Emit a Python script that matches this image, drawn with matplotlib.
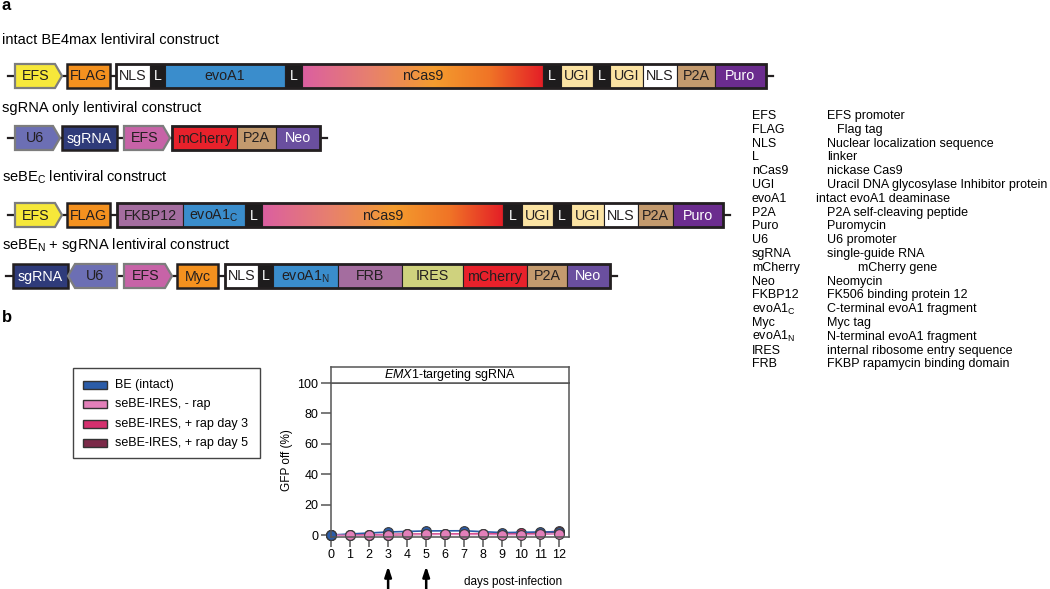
import matplotlib
matplotlib.use("Agg")
import matplotlib.pyplot as plt
import numpy as np
from matplotlib.patches import Rectangle, Polygon
from matplotlib.colors import LinearSegmentedColormap

plt.rcParams["font.family"] = ["Liberation Sans", "DejaVu Sans"]
plt.rcParams["mathtext.fontset"] = "custom"
plt.rcParams["mathtext.rm"] = "Liberation Sans"
plt.rcParams["mathtext.it"] = "Liberation Sans:italic"

SUB_C = r"$_\mathregular{C}$"
SUB_N = r"$_\mathregular{N}$"

# ---- panel b data (GFP off %) ----
days = list(range(13))
be_days = [0, 3, 5, 7, 9, 11, 12]
be_intact = [0.0, 2.0, 2.7, 2.8, 1.6, 2.0, 2.1]
no_rap = [0.0, -0.3, -0.2, 0.0, 0.5, 0.4, 0.5, 0.4, 0.4, 0.3, 0.3, 0.4, 0.8]
rap_day3 = [0.0, 0.0, 0.1, 0.3, 0.5, 0.6, 0.7, 0.8, 0.9, 1.0, 1.3, 1.6, 2.6]
rap_day5 = [0.0, 0.0, 0.1, 0.2, 0.4, 0.5, 0.6, 0.7, 0.8, 1.0, 1.2, 1.4, 1.8]
series_names = ["BE (intact)", "seBE-IRES, - rap", "seBE-IRES, + rap day 3",
                "seBE-IRES, + rap day 5"]
series_colors = ["#2b5ca8", "#e27fb9", "#d4306e", "#7b2948"]
rap_arrow_days = [3, 5]

# ---- panel a: construct parts ----
row_titles = ["intact BE4max lentiviral construct",
              "sgRNA only lentiviral construct",
              "seBE" + SUB_C + " lentiviral construct",
              "seBE" + SUB_N + " + sgRNA lentiviral construct"]
row_parts = [
    ["EFS", "FLAG", "NLS", "L", "evoA1", "L", "nCas9", "L", "UGI", "L", "UGI", "NLS", "P2A", "Puro"],
    ["U6", "sgRNA", "EFS", "mCherry", "P2A", "Neo"],
    ["EFS", "FLAG", "FKBP12", "evoA1" + SUB_C, "L", "nCas9", "L", "UGI", "L", "UGI", "NLS", "P2A", "Puro"],
    ["sgRNA", "U6", "EFS", "Myc", "NLS", "L", "evoA1" + SUB_N, "FRB", "IRES", "mCherry", "P2A", "Neo"],
]
# kinds: P promoter (right), Q promoter (left), B separate box, S fused segment
row_kinds = [
    "PBSSSSSSSSSSSS",
    "PBPSSS",
    "PBSSSSSSSSSSS",
    "BQPBSSSSSSSS",
]
row_spans = [
    [(15, 62), (67, 110), (116, 150), (150, 165), (165, 285), (285, 302), (302, 543),
     (543, 561), (561, 593), (593, 610), (610, 643), (643, 677), (677, 715), (715, 766)],
    [(15, 60), (62, 117), (124, 170), (172, 237), (237, 276), (276, 320)],
    [(15, 62), (67, 110), (117, 183), (183, 245), (245, 262), (262, 503), (503, 522),
     (522, 553), (553, 571), (571, 604), (604, 638), (638, 673), (673, 723)],
    [(13, 68), (68, 117), (124, 172), (177, 218), (225, 258), (258, 273), (273, 338),
     (338, 402), (402, 463), (463, 527), (527, 567), (567, 610)],
]
row_y = [76, 138, 215, 276]
title_y = [40, 108, 177, 245]
efs_colors = ["#f6e83a", "#c763a7", "#f6e83a", "#c763a7"]

part_colors = {"FLAG": "#f4911f", "NLS": "white", "L": "#1e1c1d", "evoA1": "#3a8dcc",
               "UGI": "#fbe3a3", "P2A": "#c39a6e", "Puro": "#6b2c8e", "U6": "#6c6fb4",
               "sgRNA": "#2f3b7a", "mCherry": "#e8212b", "Neo": "#6a4f9f",
               "FKBP12": "#a46d9f", "FRB": "#a46d9f", "Myc": "#f4911f", "IRES": "#cfd27e"}
white_text = {"L", "sgRNA", "Puro", "Neo"}

glossary_names = ["EFS", "FLAG", "NLS", "L", "nCas9", "UGI", "evoA1", "P2A", "Puro", "U6",
                  "sgRNA", "mCherry", "Neo", "FKBP12", "evoA1" + SUB_C, "Myc",
                  "evoA1" + SUB_N, "IRES", "FRB"]
glossary_desc = ["EFS promoter", "Flag tag", "Nuclear localization sequence", "linker",
                 "nickase Cas9", "Uracil DNA glycosylase Inhibitor protein",
                 "intact evoA1 deaminase", "P2A self-cleaving peptide", "Puromycin",
                 "U6 promoter", "single-guide RNA", "mCherry gene", "Neomycin",
                 "FK506 binding protein 12", "C-terminal evoA1 fragment", "Myc tag",
                 "N-terminal evoA1 fragment", "internal ribosome entry sequence",
                 "FKBP rapamycin binding domain"]
glossary_shift = [0, 10, 0, 0, 0, 0, -11, 0, 0, 0, 0, 31, 0, 0, 0, 0, 0, 0, 0]

cas9_cmap = LinearSegmentedColormap.from_list(
    "cas9", [(0, "#db5fa1"), (0.3, "#e8826a"), (0.55, "#f49c2e"), (0.78, "#f07426"), (1, "#e41f27")])

W, H = 1050, 589
fig = plt.figure(figsize=(W / 100, H / 100), dpi=100)
canvas = fig.add_axes([0, 0, 1, 1])
canvas.set_xlim(0, W)
canvas.set_ylim(H, 0)
canvas.axis("off")

TXT = "#231f20"
BOX_H = 24


def draw_row(y, parts, kinds, spans, efs_color):
    x_first, x_last = spans[0][0], spans[-1][1]
    canvas.plot([x_first - 7, x_last + 7], [y, y], color=TXT, lw=1.6, zorder=1)
    top, bot = y - BOX_H / 2, y + BOX_H / 2
    group = []
    for label, kind, (x0, x1) in zip(parts, kinds, spans):
        base = label.split("$")[0]
        color = efs_color if base == "EFS" else part_colors.get(base, "white")
        tcolor = "white" if base in white_text else TXT
        if kind == "P":
            pts = [(x0, top), (x1 - 7, top), (x1, y), (x1 - 7, bot), (x0, bot)]
            canvas.add_patch(Polygon(pts, closed=True, fc=color, ec="#7d7d7d", lw=1.6, zorder=2))
            cx = (x0 + x1 - 5) / 2
        elif kind == "Q":
            pts = [(x0, y), (x0 + 7, top), (x1, top), (x1, bot), (x0 + 7, bot)]
            canvas.add_patch(Polygon(pts, closed=True, fc=color, ec="#7d7d7d", lw=1.6, zorder=2))
            cx = (x0 + x1 + 5) / 2
        else:
            if base == "nCas9":
                grad = np.linspace(0, 1, 256).reshape(1, -1)
                canvas.imshow(grad, cmap=cas9_cmap, extent=[x0, x1, bot, top],
                              aspect="auto", zorder=2)
                canvas.add_patch(Rectangle((x0, top), x1 - x0, BOX_H, fc="none",
                                           ec=TXT, lw=0.8, zorder=3))
            else:
                canvas.add_patch(Rectangle((x0, top), x1 - x0, BOX_H, fc=color,
                                           ec=TXT, lw=0.8 if kind == "S" else 1.8, zorder=2))
            cx = (x0 + x1) / 2
            if kind == "S":
                group.append((x0, x1))
        canvas.text(cx, y + 0.5, label, ha="center", va="center", fontsize=10.3,
                    color=tcolor, zorder=5)
    if group:
        gx0, gx1 = group[0][0], group[-1][1]
        canvas.add_patch(Rectangle((gx0, top), gx1 - gx0, BOX_H, fc="none", ec=TXT,
                                   lw=2.0, zorder=4))


canvas.text(2, 6, "a", fontsize=12, fontweight="bold", ha="left", va="center")
for i in range(4):
    canvas.text(2, title_y[i], row_titles[i], fontsize=10.5, ha="left", va="center")
    draw_row(row_y[i], row_parts[i], row_kinds[i], row_spans[i], efs_colors[i])
canvas.set_xlim(0, W)
canvas.set_ylim(H, 0)

for i, (name, desc) in enumerate(zip(glossary_names, glossary_desc)):
    gy = 116 + i * 13.8
    canvas.text(752, gy, name, fontsize=9, ha="left", va="center")
    canvas.text(827 + glossary_shift[i], gy, desc, fontsize=9, ha="left", va="center")

# ---- panel b ----
canvas.text(2, 318, "b", fontsize=12, fontweight="bold", ha="left", va="center")
canvas.add_patch(Rectangle((73, 368), 187, 90, fc="white", ec="#444444", lw=1.0))
for i, (name, col) in enumerate(zip(series_names, series_colors)):
    ly = 385 + i * 19.3
    canvas.add_patch(Rectangle((83, ly - 4), 24, 8, fc=col, ec="#333333", lw=1.0))
    canvas.text(115, ly, name, fontsize=9, ha="left", va="center")

ax_l, ax_r, ax_t, ax_b = 331, 569, 383, 537
ax = fig.add_axes([ax_l / W, 1 - ax_b / H, (ax_r - ax_l) / W, (ax_b - ax_t) / H])
strip = fig.add_axes([ax_l / W, 1 - ax_t / H, (ax_r - ax_l) / W, 16 / H])
strip.set_xticks([])
strip.set_yticks([])
for s in strip.spines.values():
    s.set_color("#555555")
    s.set_linewidth(1.1)
strip.text(0.5, 0.5, r"$\mathit{EMX1}$-targeting sgRNA", ha="center", va="center",
           fontsize=9, transform=strip.transAxes)

mk = dict(marker="o", markersize=7, markeredgecolor="#3a3a3a", markeredgewidth=0.8,
          lw=1.2, clip_on=False)
ax.plot(days, rap_day5, color=series_colors[3], markerfacecolor=series_colors[3], **mk)
ax.plot(days, rap_day3, color=series_colors[2], markerfacecolor=series_colors[2], **mk)
ax.plot(be_days, be_intact, color=series_colors[0], markerfacecolor=series_colors[0], **mk)
ax.plot(days, no_rap, color=series_colors[1], markerfacecolor=series_colors[1], **mk)
ax.plot(be_days[:1], be_intact[:1], color=series_colors[0], markerfacecolor=series_colors[0], **mk)

ax.set_xlim(0, 12.5)
ax.set_ylim(-1.3, 100)
ax.set_xticks(days)
ax.set_yticks([0, 20, 40, 60, 80, 100])
ax.tick_params(direction="out", length=7, width=1.1, color="#555555", labelsize=9, pad=2)
for s in ax.spines.values():
    s.set_color("#555555")
    s.set_linewidth(1.1)
ax.set_ylabel("GFP off (%)", fontsize=8.5, labelpad=3)
ax.text(9.58, -0.292, "days post-infection", transform=ax.get_xaxis_transform(),
        ha="center", va="center", fontsize=8.5)
for d in rap_arrow_days:
    ax.annotate("", xy=(d, -0.19), xytext=(d, -0.345), xycoords=ax.get_xaxis_transform(),
                textcoords=ax.get_xaxis_transform(),
                arrowprops=dict(arrowstyle="-|>,head_length=0.6,head_width=0.2",
                                color="black", lw=1.8, shrinkA=0, shrinkB=0))

fig.savefig("out.png", dpi=100)
